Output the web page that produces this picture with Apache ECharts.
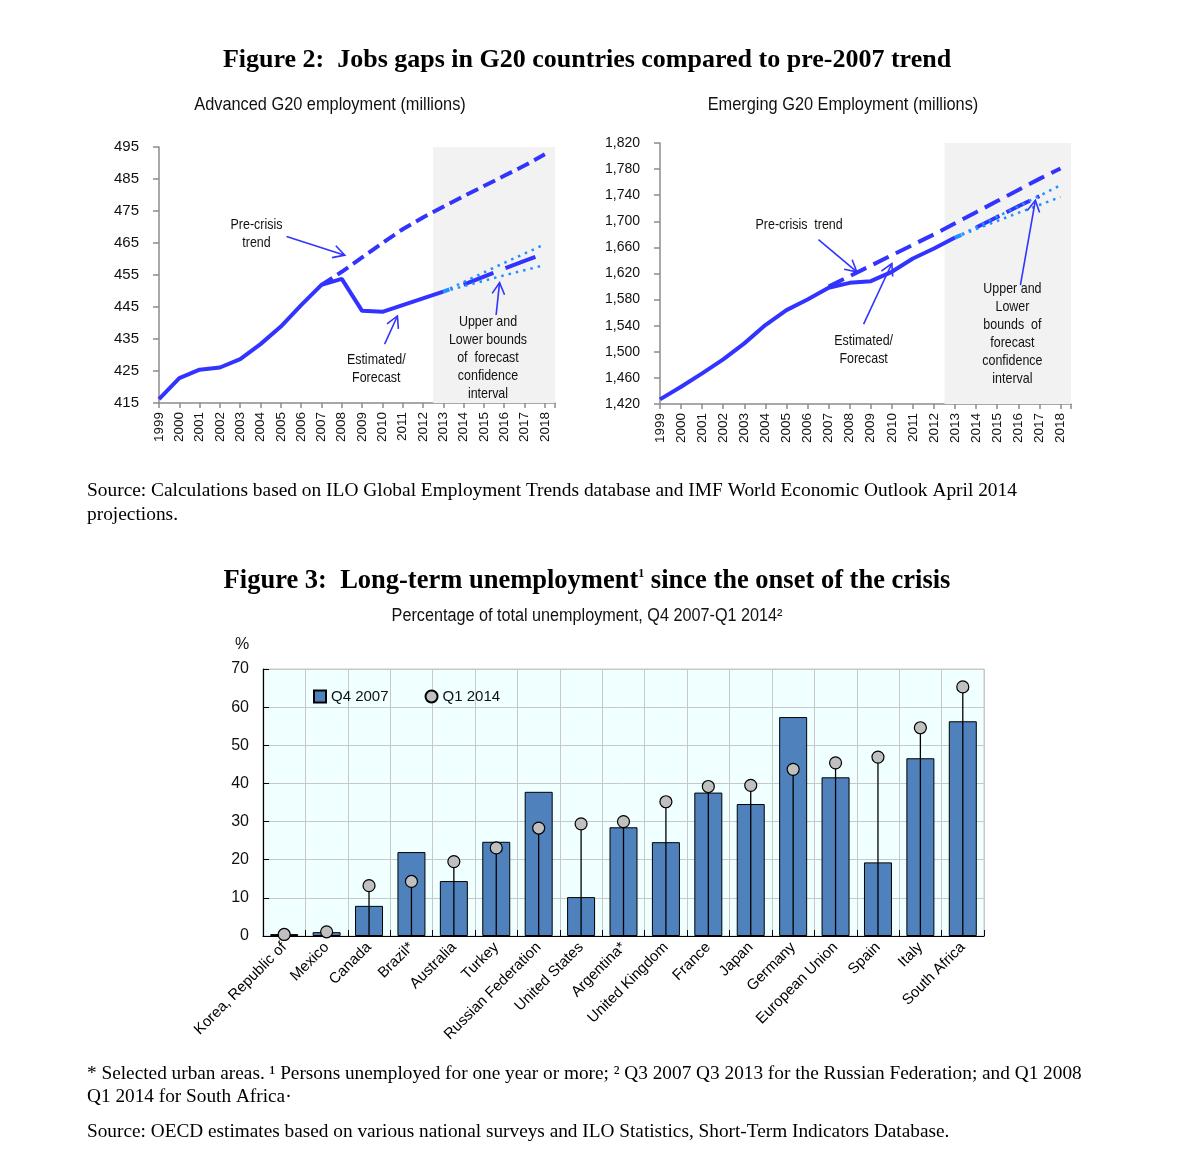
<!DOCTYPE html>
<html><head><meta charset="utf-8">
<script src="https://cdn.jsdelivr.net/npm/echarts@6/dist/echarts.min.js"></script>
<style>html,body{margin:0;padding:0;background:#fff}#c{width:1204px;height:1160px}</style>
</head><body><div id="c"></div>
<script>
// ---------- DATA ----------
const years = [1999,2000,2001,2002,2003,2004,2005,2006,2007,2008,2009,2010,2011,2012,2013,2014,2015,2016,2017,2018];
const actualYears = years.slice(0, 15);          // 1999-2013
const boundYears = years.slice(14);              // 2013-2018
const forecastYears = years.slice(15);           // 2014-2018
const trendYears = years.slice(8);               // 2007-2018

const advActual   = [416.2, 422.8, 425.4, 426.1, 428.7, 433.4, 438.9, 445.6, 451.9, 453.8, 443.8, 443.5, 445.6, 447.7, 449.8];
const advForecast = [452.0, 454.5, 457.0, 459.4, 461.8];
const advUpper    = [449.8, 452.8, 455.8, 458.8, 461.7, 464.6];
const advLower    = [449.8, 451.5, 453.2, 454.9, 456.5, 458.1];
const advTrend    = [451.9, 456.0, 460.5, 465.0, 469.3, 473.0, 476.3, 479.6, 482.8, 486.0, 489.2, 492.7];

const emActual    = [1427.1, 1446.5, 1467.0, 1488.4, 1512.9, 1540.9, 1563.9, 1580.2, 1598.1, 1605.7, 1608.3, 1622.6, 1643.0, 1658.3, 1675.1];
const emForecast  = [1690.4, 1706.7, 1723.0, 1738.5];
const emUpper     = [1675.1, 1691.0, 1707.0, 1723.0, 1739.0, 1755.2];
const emLower     = [1675.1, 1688.0, 1700.5, 1713.0, 1725.0, 1737.3];
const emTrend     = [1600, 1616, 1632, 1648, 1664, 1680, 1697, 1714, 1731, 1748, 1765, 1781];

const countries = ['Korea, Republic of','Mexico','Canada','Brazil*','Australia','Turkey','Russian Federation','United States','Argentina*','United Kingdom','France','Japan','Germany','European Union','Spain','Italy','South Africa'];
const q4_2007 = [0.5, 1.0, 7.9, 22.0, 14.4, 24.7, 37.8, 10.2, 28.5, 24.6, 37.6, 34.6, 57.4, 41.6, 19.3, 46.6, 56.3];
const q1_2014 = [0.4, 1.1, 13.2, 14.3, 19.5, 23.1, 28.3, 29.4, 30.0, 35.2, 39.2, 39.5, 43.7, 45.4, 46.9, 54.6, 65.3];

// ---------- STYLE ----------
const SANS = "'Liberation Sans',Arial,sans-serif";
const SERIF = "'Liberation Serif','Times New Roman',serif";
const BLUE = '#3333ff';
const LIGHT = '#1e90ff';
const pairs = (xs, ys) => xs.map((x, i) => [x, ys[i]]);

const chart = echarts.init(document.getElementById('c'), null, {renderer: 'canvas'});

function lineX(gi) {
  return {
    type: 'value', gridIndex: gi, min: 1999, max: 2018.5, interval: 1,
    axisLine: {show: true, lineStyle: {color: '#8c8c8c', width: 1.5}},
    axisTick: {show: true, length: 5, lineStyle: {color: '#8c8c8c', width: 1.5}},
    splitLine: {show: false},
    axisLabel: {rotate: 90, margin: 9, fontFamily: SANS, fontSize: 13.5, color: '#111',
      formatter: v => (Math.abs(v - Math.round(v)) < 1e-6 ? String(Math.round(v)) : '')}
  };
}
function lineY(gi, min, max, interval, fs, fmt) {
  return {
    type: 'value', gridIndex: gi, min, max, interval,
    axisLine: {show: true, lineStyle: {color: '#8c8c8c', width: 1.5}},
    axisTick: {show: true, length: 6, lineStyle: {color: '#8c8c8c', width: 1.5}},
    splitLine: {show: false},
    axisLabel: {margin: 20, fontFamily: SANS, fontSize: fs, color: '#111', formatter: fmt}
  };
}
function lineSeries(gi, data, opts) {
  return Object.assign({
    type: 'line', xAxisIndex: gi, yAxisIndex: gi, data, showSymbol: false, symbol: 'none',
    silent: true
  }, opts);
}
function chartSeries(gi, a, f, u, l, t) {
  return [
    lineSeries(gi, [], {markArea: {silent: true, itemStyle: {color: '#f2f2f2'},
      data: [[{xAxis: 2012.5}, {xAxis: 2018.5}]]}}),
    lineSeries(gi, pairs(trendYears, t), {lineStyle: {color: BLUE, width: 4, type: gi === 0 ? [13, 6] : [17, 8]}}),
    lineSeries(gi, pairs(actualYears, a), {lineStyle: {color: BLUE, width: 4}}),
    lineSeries(gi, pairs(forecastYears.slice(0, f.length), f), {lineStyle: {color: BLUE, width: 4, type: gi === 0 ? [32, 13] : [26, 8]}}),
    lineSeries(gi, pairs(boundYears, u), {lineStyle: {color: LIGHT, width: 2.5, type: [2.5, 5]}}),
    lineSeries(gi, pairs(boundYears, l), {lineStyle: {color: LIGHT, width: 2.5, type: [2.5, 5]}}),
    lineSeries(gi, [[2013, a[a.length - 1]], [2013.3, a[a.length - 1] + (gi === 0 ? 0.7 : 4)]], {lineStyle: {color: LIGHT, width: 4}})
  ];
}

const option = {
  animation: false,
  backgroundColor: '#fff',
  grid: [
    {left: 159, top: 147, width: 396, height: 256},
    {left: 660, top: 143, width: 411, height: 261},
    {left: 263, top: 669, width: 721, height: 267, show: true, backgroundColor: '#f0ffff', borderColor: '#c8c8c8', borderWidth: 1}
  ],
  xAxis: [
    lineX(0), lineX(1),
    {type: 'category', gridIndex: 2, data: countries,
      axisLine: {show: true, lineStyle: {color: '#000', width: 1.2}},
      axisTick: {show: true, inside: true, length: 6, interval: 0, lineStyle: {color: '#000'}},
      splitLine: {show: true, interval: 0, lineStyle: {color: '#c8c8c8', width: 1}},
      axisLabel: {interval: 0, rotate: 45, margin: 9, fontFamily: SANS, fontSize: 15, color: '#000'}}
  ],
  yAxis: [
    lineY(0, 415, 495, 10, 15, v => String(v)),
    lineY(1, 1420, 1820, 40, 14, v => v.toLocaleString('en-US')),
    {type: 'value', gridIndex: 2, min: 0, max: 70, interval: 10,
      axisLine: {show: true, lineStyle: {color: '#000', width: 1.2}},
      axisTick: {show: true, inside: true, length: 6, lineStyle: {color: '#000'}},
      splitLine: {show: true, lineStyle: {color: '#c8c8c8', width: 1}},
      axisLabel: {margin: 14, fontFamily: SANS, fontSize: 16, color: '#111'}}
  ],
  legend: {
    left: 313, top: 689, padding: 0, itemWidth: 12, itemHeight: 12, itemGap: 36, itemTextGap: 4,
    textStyle: {fontFamily: SANS, fontSize: 15, color: '#111'},
    data: [{name: 'Q4 2007', icon: 'rect'}, {name: 'Q1 2014', icon: 'circle'}]
  },
  series: [
    ...chartSeries(0, advActual, advForecast, advUpper, advLower, advTrend),
    ...chartSeries(1, emActual, emForecast, emUpper, emLower, emTrend),
    {name: 'Q4 2007', type: 'bar', xAxisIndex: 2, yAxisIndex: 2, data: q4_2007, barWidth: 28,
      itemStyle: {color: '#4f81bd', borderColor: '#000', borderWidth: 1}, silent: true},
    {name: 'stem', type: 'custom', xAxisIndex: 2, yAxisIndex: 2, silent: true, z: 3,
      data: q1_2014.map((v, i) => [i, v]), encode: {x: 0, y: 1},
      renderItem: (params, api) => {
        const p0 = api.coord([api.value(0), 0]);
        const p1 = api.coord([api.value(0), api.value(1)]);
        return {type: 'line', shape: {x1: p0[0], y1: p0[1], x2: p1[0], y2: p1[1]}, style: {stroke: '#000', lineWidth: 1.3}};
      }},
    {name: 'Q1 2014', type: 'scatter', xAxisIndex: 2, yAxisIndex: 2, data: q1_2014, symbolSize: 12, z: 4,
      itemStyle: {color: '#c0c0c0', borderColor: '#000', borderWidth: 1.2, opacity: 1}, silent: true}
  ]
};
chart.setOption(option);

// ---------- ANNOTATIONS (in data coordinates) ----------
const notes = [
  {g: 0, text: 'Pre-crisis\ntrend', at: [2003.8, 468.0]},
  {g: 0, text: 'Estimated/\nForecast', at: [2009.7, 425.6]},
  {g: 0, text: 'Upper and\nLower bounds\nof  forecast\nconfidence\ninterval', at: [2015.2, 429.0]},
  {g: 1, text: 'Pre-crisis  trend', at: [2005.6, 1694]},
  {g: 1, text: 'Estimated/\nForecast', at: [2008.66, 1503]},
  {g: 1, text: 'Upper and\nLower\nbounds  of\nforecast\nconfidence\ninterval', at: [2015.72, 1527]}
];
const arrows = [
  {g: 0, from: [2005.28, 467.0], to: [2008.15, 461.2]},
  {g: 0, from: [2010.11, 433.4], to: [2010.74, 442.2]},
  {g: 0, from: [2015.6, 442.5], to: [2015.77, 452.6]},
  {g: 1, from: [2006.52, 1672], to: [2008.34, 1622.6]},
  {g: 1, from: [2008.66, 1542.4], to: [2010.0, 1635.3]},
  {g: 1, from: [2016.1, 1602.1], to: [2016.81, 1732.2]}
];

const graphics = [];
function txt(x, y, text, font, extra, sx) {
  graphics.push({type: 'text', x, y, scaleX: sx || 1, silent: true, z: 100,
    style: Object.assign({text, font, fill: '#111', align: 'center', verticalAlign: 'middle'}, extra || {})});
}
notes.forEach(n => {
  const p = chart.convertToPixel({gridIndex: n.g}, n.at);
  txt(p[0], p[1], n.text, '15px ' + SANS, {lineHeight: 18}, 0.83);
});
arrows.forEach(a => {
  const p0 = chart.convertToPixel({gridIndex: a.g}, a.from);
  const p1 = chart.convertToPixel({gridIndex: a.g}, a.to);
  const ang = Math.atan2(p1[1] - p0[1], p1[0] - p0[0]);
  const L = 13, w = 0.5;
  const h1 = [p1[0] - L * Math.cos(ang - w), p1[1] - L * Math.sin(ang - w)];
  const h2 = [p1[0] - L * Math.cos(ang + w), p1[1] - L * Math.sin(ang + w)];
  const st = {stroke: BLUE, lineWidth: 1.6, fill: null};
  graphics.push({type: 'polyline', silent: true, z: 100, shape: {points: [p0, p1]}, style: st});
  graphics.push({type: 'polyline', silent: true, z: 100, shape: {points: [h1, p1, h2]}, style: st});
});

// titles and notes
txt(587, 60, 'Figure 2:  Jobs gaps in G20 countries compared to pre-2007 trend', 'bold 26px ' + SERIF, {fill: '#000'});
txt(330, 105, 'Advanced G20 employment (millions)', '19px ' + SANS, null, 0.86);
txt(843, 105, 'Emerging G20 Employment (millions)', '19px ' + SANS, null, 0.86);
txt(87, 491, 'Source: Calculations based on ILO Global Employment Trends database and IMF World Economic Outlook April 2014', '19.4px ' + SERIF, {align: 'left', fill: '#000'});
txt(87, 515, 'projections.', '19.4px ' + SERIF, {align: 'left', fill: '#000'});
graphics.push({type: 'text', x: 587, y: 581, silent: true, z: 100, style: {
  text: '{a|Figure 3:  Long-term unemployment}{s|1}{a| since the onset of the crisis}',
  align: 'center', verticalAlign: 'middle',
  rich: {a: {font: 'bold 26.5px ' + SERIF, fill: '#000'}, s: {font: 'bold 12px ' + SERIF, fill: '#000', verticalAlign: 'top', padding: [0, 0, 12, 0]}}
}});
txt(587, 616, 'Percentage of total unemployment, Q4 2007-Q1 2014²', '18px ' + SANS, null, 0.9);
txt(242, 645, '%', '16px ' + SANS);
txt(87, 1074, '* Selected urban areas. ¹ Persons unemployed for one year or more; ² Q3 2007 Q3 2013 for the Russian Federation; and Q1 2008', '19.3px ' + SERIF, {align: 'left', fill: '#000'});
txt(87, 1097, 'Q1 2014 for South Africa·', '19.3px ' + SERIF, {align: 'left', fill: '#000'});
txt(87, 1132, 'Source: OECD estimates based on various national surveys and ILO Statistics, Short-Term Indicators Database.', '19.3px ' + SERIF, {align: 'left', fill: '#000'});

chart.setOption({graphic: graphics});
</script></body></html>
